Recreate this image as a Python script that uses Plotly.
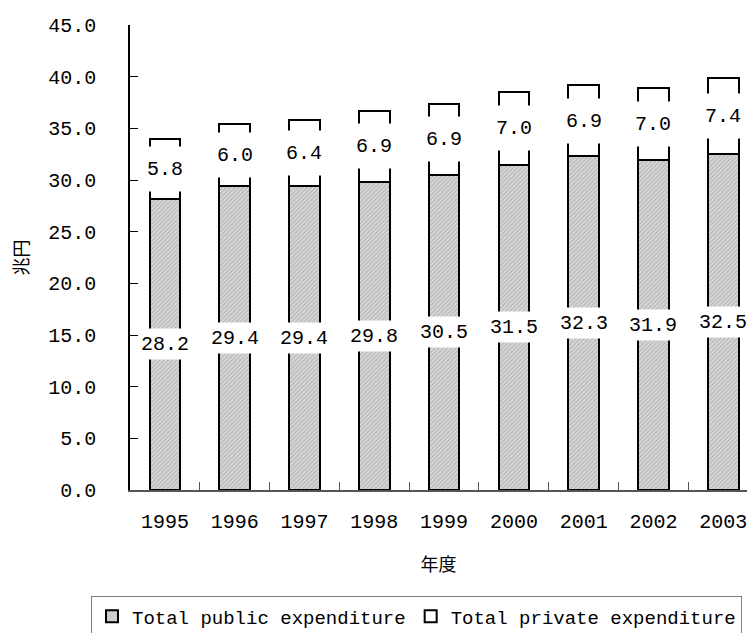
import plotly.graph_objects as go

years = ["1995", "1996", "1997", "1998", "1999", "2000", "2001", "2002", "2003"]
public_exp = [28.2, 29.4, 29.4, 29.8, 30.5, 31.5, 32.3, 31.9, 32.5]
private_exp = [5.8, 6.0, 6.4, 6.9, 6.9, 7.0, 6.9, 7.0, 7.4]
y_ticks = [0, 5, 10, 15, 20, 25, 30, 35, 40, 45]

MONO = "Liberation Mono"
CJK = "Noto Sans CJK JP"

fig = go.Figure()
fig.add_trace(go.Bar(
    x=years, y=public_exp, name="Total public expenditure",
    marker=dict(color="#d4d4d4",
                pattern=dict(shape="/", fgcolor="#8c8c8c", bgcolor="#d8d8d8", size=3, solidity=0.35),
                line=dict(color="black", width=2)),
    hoverinfo="skip",
))
fig.add_trace(go.Bar(
    x=years, y=private_exp, name="Total private expenditure",
    marker=dict(color="white", line=dict(color="black", width=2)),
    hoverinfo="skip",
))

annotations = []
for i, (pu, pr) in enumerate(zip(public_exp, private_exp)):
    annotations.append(dict(x=i, y=pu / 2, xref="x", yref="y", text=f"{pu:.1f}",
                            showarrow=False, bgcolor="white", borderpad=1, height=28,
                            font=dict(family=MONO, size=20, color="black")))
    annotations.append(dict(x=i, y=pu + pr / 2, xref="x", yref="y", text=f"{pr:.1f}",
                            showarrow=False, bgcolor="white", borderpad=1, height=42,
                            font=dict(family=MONO, size=20, color="black")))

fig.update_layout(
    barmode="stack",
    bargap=0.56,
    width=748, height=633,
    margin=dict(l=130, r=1, t=25, b=143, autoexpand=False),
    paper_bgcolor="white", plot_bgcolor="white",
    font=dict(family=MONO, size=20, color="black"),
    annotations=annotations,
    showlegend=True,
    legend=dict(orientation="h", x=-0.0632, y=-0.229, xanchor="left", yanchor="top",
                traceorder="normal",
                bordercolor="#808080", borderwidth=1, font=dict(family=MONO, size=19),
                itemwidth=30, tracegroupgap=0),
    xaxis=dict(type="category", range=[-0.5, 8.34], autorange=False,
               showline=True, linecolor="#555555", linewidth=1.5,
               ticks="inside", ticklen=8,
               tickcolor="#555555", tickson="boundaries", ticklabelstandoff=12,
               showgrid=False, zeroline=False,
               title=dict(text="年度", font=dict(family=CJK, size=18), standoff=26)),
    yaxis=dict(range=[0, 45], autorange=False, tickvals=y_ticks,
               ticktext=[f"{v:.1f}" for v in y_ticks],
               showline=True, linecolor="black", linewidth=1.5, ticks="inside", ticklen=8,
               tickcolor="black", ticklabelstandoff=28, showgrid=False, zeroline=False,
               title=dict(text="兆円", font=dict(family=CJK, size=18), standoff=15)),
)

fig.write_html("out.html", config={"displayModeBar": False},
               post_script="document.body.style.margin='0';")
